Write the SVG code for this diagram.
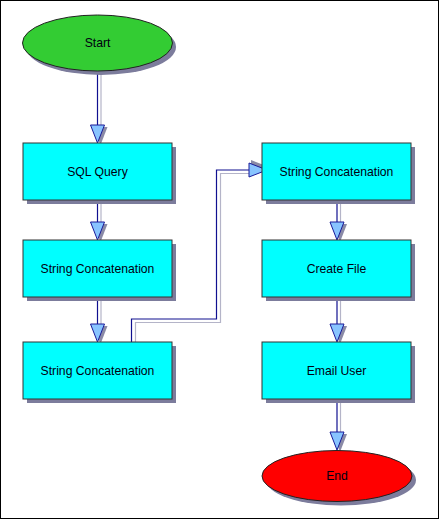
<svg xmlns="http://www.w3.org/2000/svg" width="440" height="520" viewBox="0 0 440 520">
<style>
.box{fill:#00ffff;stroke:#333333;stroke-width:1}
.sh{fill:#7c7c9c}
.lbl{font-family:"Liberation Sans",Arial,sans-serif;font-size:12.2px;fill:#000010;text-anchor:middle;dominant-baseline:central}
.ln{fill:none;stroke:#101090;stroke-width:1.2}
.lns{fill:none;stroke:#b4b4c8;stroke-width:1.2}
</style>
<defs>
<g id="ah">
<polygon points="-7,-18 7,-18 0,0" fill="#8a8aa6" transform="translate(3,2)"/>
<polygon points="-7,-18 7,-18 0,0" fill="#88c4ff" stroke="#1a1a99" stroke-width="1"/>
</g>
</defs>
<rect x="0.5" y="0.5" width="438" height="518" fill="#ffffff" stroke="#000000" stroke-width="1"/>

<g id="connectors">
<line class="lns" x1="101" y1="71" x2="101" y2="126"/>
<line class="ln" x1="97.5" y1="71" x2="97.5" y2="126"/>
<use href="#ah" transform="translate(97.5,143)"/>

<line class="lns" x1="101" y1="200" x2="101" y2="223"/>
<line class="ln" x1="97.5" y1="200" x2="97.5" y2="223"/>
<use href="#ah" transform="translate(97.5,240)"/>

<line class="lns" x1="101" y1="297" x2="101" y2="325"/>
<line class="ln" x1="97.5" y1="297" x2="97.5" y2="325"/>
<use href="#ah" transform="translate(97.5,342)"/>

<polyline class="lns" points="135.5,342 135.5,322.5 220.5,322.5 220.5,173.5 250,173.5"/>
<polyline class="ln" points="131.5,342 131.5,319 216.5,319 216.5,170 250,170" stroke="#4848b0"/>
<use href="#ah" transform="translate(267,170) rotate(-90)"/>

<line class="lns" x1="340.5" y1="200" x2="340.5" y2="223"/>
<line class="ln" x1="337" y1="200" x2="337" y2="223"/>
<use href="#ah" transform="translate(337,240)"/>

<line class="lns" x1="340.5" y1="297" x2="340.5" y2="325"/>
<line class="ln" x1="337" y1="297" x2="337" y2="325"/>
<use href="#ah" transform="translate(337,342)"/>

<line class="lns" x1="340.5" y1="400" x2="340.5" y2="433"/>
<line class="ln" x1="337" y1="400" x2="337" y2="433"/>
<use href="#ah" transform="translate(337,450)"/>
</g>

<g id="start">
<ellipse class="sh" cx="101" cy="47" rx="75" ry="28"/>
<ellipse cx="97.5" cy="43" rx="75" ry="28" fill="#33cc33" stroke="#222222" stroke-width="1"/>
<text class="lbl" x="97.5" y="43">Start</text>
</g>

<g id="sql">
<rect class="sh" x="27" y="147" width="149" height="57"/>
<rect class="box" x="23" y="143" width="149" height="57"/>
<text class="lbl" x="97.5" y="171.5">SQL Query</text>
</g>

<g id="concat1">
<rect class="sh" x="27" y="244" width="149" height="57"/>
<rect class="box" x="23" y="240" width="149" height="57"/>
<text class="lbl" x="97.5" y="268.5">String Concatenation</text>
</g>

<g id="concat2">
<rect class="sh" x="27" y="346" width="149" height="57"/>
<rect class="box" x="23" y="342" width="149" height="57"/>
<text class="lbl" x="97.5" y="370.5">String Concatenation</text>
</g>

<g id="concat3">
<rect class="sh" x="266" y="147" width="149" height="57"/>
<rect class="box" x="262" y="143" width="149" height="57"/>
<text class="lbl" x="336.5" y="171.5">String Concatenation</text>
</g>

<g id="createfile">
<rect class="sh" x="266" y="244" width="149" height="57"/>
<rect class="box" x="262" y="240" width="149" height="57"/>
<text class="lbl" x="336.5" y="268.5">Create File</text>
</g>

<g id="email">
<rect class="sh" x="266" y="346" width="149" height="57"/>
<rect class="box" x="262" y="342" width="149" height="57"/>
<text class="lbl" x="336.5" y="370.5">Email User</text>
</g>

<g id="end">
<ellipse class="sh" cx="341" cy="480" rx="75" ry="25.5"/>
<ellipse cx="337" cy="476" rx="75" ry="25.5" fill="#ff0000" stroke="#222222" stroke-width="1"/>
<text class="lbl" x="337" y="476">End</text>
</g>
</svg>
